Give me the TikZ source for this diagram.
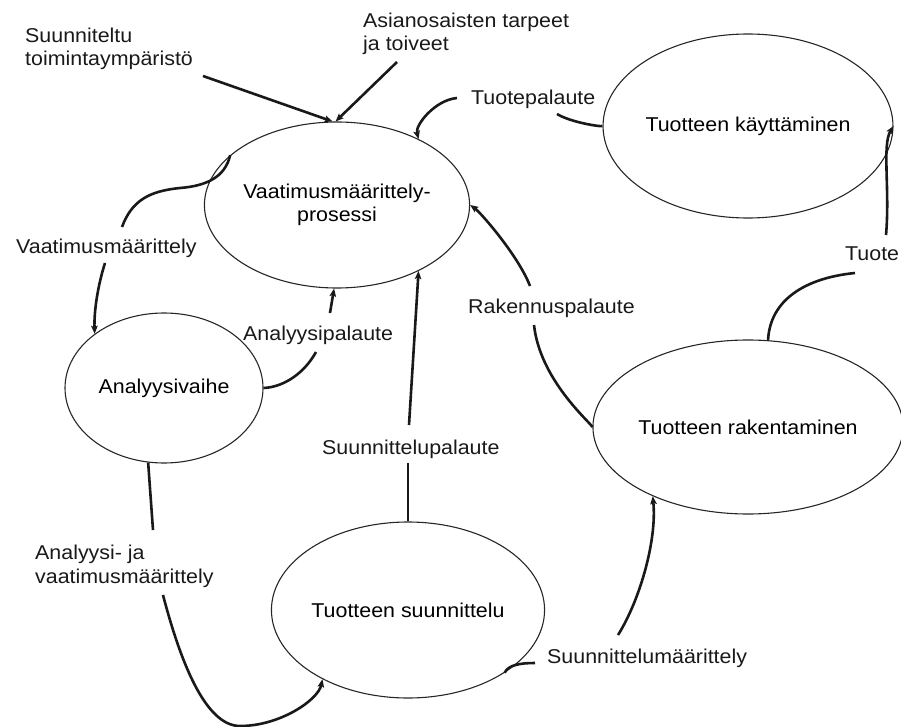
\documentclass[tikz,border=0pt]{standalone}
\usepackage{fontspec}
\setmainfont{Liberation Sans}[FakeStretch=1.07]
\usetikzlibrary{shapes.geometric,arrows.meta}
\newcommand\diagfont{\fontsize{20}{23.5}\selectfont}
\begin{document}
\begin{tikzpicture}[x=1pt,y=-1pt,
  phase/.style={ellipse,draw=black!85,line width=1.1pt,inner sep=0pt,align=center,font=\diagfont},
  lbl/.style={inner sep=0pt,anchor=base west,align=left,font=\diagfont,text=black!90},
  flow/.style={line width=2.6pt,draw=black!90},
  arr/.style={flow,-{Stealth[length=8pt,width=6.5pt,inset=1.5pt]}}]
\useasboundingbox (0,0) rectangle (901,727);

% process phases
\node[phase,minimum width=225pt,minimum height=166pt] (vm) at (337,205) {Vaatimusmäärittely-\\prosessi};
\node[phase,minimum width=232pt,minimum height=184pt] (ka) at (748,126) {Tuotteen käyttäminen};
\node[phase,minimum width=198pt,minimum height=150pt] (an) at (164,388) {Analyysivaihe};
\node[phase,minimum width=250pt,minimum height=174pt] (ra) at (748,427) {Tuotteen rakentaminen};
\node[phase,minimum width=232pt,minimum height=176pt] (su) at (408,610) {Tuotteen suunnittelu};

% flow labels (two-line labels sit on the baseline of their last line)
\node[lbl] (lSuun) at (25,66) {Suunniteltu\\toimintaympäristö};
\node[lbl] (lAsia) at (363,51) {Asianosaisten tarpeet\\ja toiveet};
\node[lbl] (lTp) at (471,105) {Tuotepalaute};
\node[lbl] (lVm) at (16,253) {Vaatimusmäärittely};
\node[lbl] (lAp) at (243,340) {Analyysipalaute};
\node[lbl] (lRp) at (468,313) {Rakennuspalaute};
\node[lbl] (lTuote) at (845,260) {Tuote};
\node[lbl] (lSp) at (322,454) {Suunnittelupalaute};
\node[lbl] (lAv) at (35,583) {Analyysi- ja\\vaatimusmäärittely};
\node[lbl] (lSm) at (547,663) {Suunnittelumäärittely};

% connector ends beside the labels
\coordinate (suA) at (203,76);
\coordinate (asA) at (397,62);
\coordinate (tpA) at (557,114);
\coordinate (tpB) at (457,98);
\coordinate (vmA) at (122,227);
\coordinate (vmB) at (105,263);
\coordinate (apA) at (316,352);
\coordinate (apB) at (330,313);
\coordinate (spA) at (408,463);
\coordinate (spB) at (409,425);
\coordinate (rpA) at (534,325);
\coordinate (rpB) at (530,286);
\coordinate (tuA) at (855,273);
\coordinate (tuB) at (886,235);
\coordinate (avA) at (153,530);
\coordinate (avB) at (163,595);
\coordinate (smA) at (535,663);
\coordinate (smB) at (618,635);

% inputs
\draw[arr] (suA) -- (vm.93);
\draw[arr] (asA) -- (vm.91);

% feedback and hand-over flows
\draw[flow] (ka.west) .. controls (600,127) and (570,122) .. (tpA);
\draw[arr] (tpB) .. controls (435,100) and (415,125) .. (vm.39);

\draw[flow] (vm.155) .. controls (225,178) and (205,186) .. (180,188) .. controls (150,191) and (132,200) .. (vmA);
\draw[arr] (vmB) .. controls (98,285) and (94,310) .. (an.142);

\draw[flow] (an.east) .. controls (285,387) and (305,372) .. (apA);
\draw[arr] (apB) -- (vm.268);

\draw[flow] (su.north) -- (spA);
\draw[arr] (spB) -- (vm.321);

\draw[flow] (ra.west) .. controls (590,422) and (540,380) .. (rpA);
\draw[arr] (rpB) .. controls (518,255) and (480,212) .. (vm.east);

\draw[flow] (ra.77) .. controls (770,300) and (805,278) .. (tuA);
\draw[arr] (tuB) .. controls (890,190) and (882,145) .. (ka.east);

\draw[flow] (an.258) -- (avA);
\draw[arr] (avB) .. controls (180,660) and (205,726) .. (240,726) .. controls (280,726) and (318,700) .. (su.219);

\draw[flow] (su.327) .. controls (508,665) and (520,663) .. (smA);
\draw[arr] (smB) .. controls (640,600) and (657,540) .. (ra.216);
\end{tikzpicture}
\end{document}
